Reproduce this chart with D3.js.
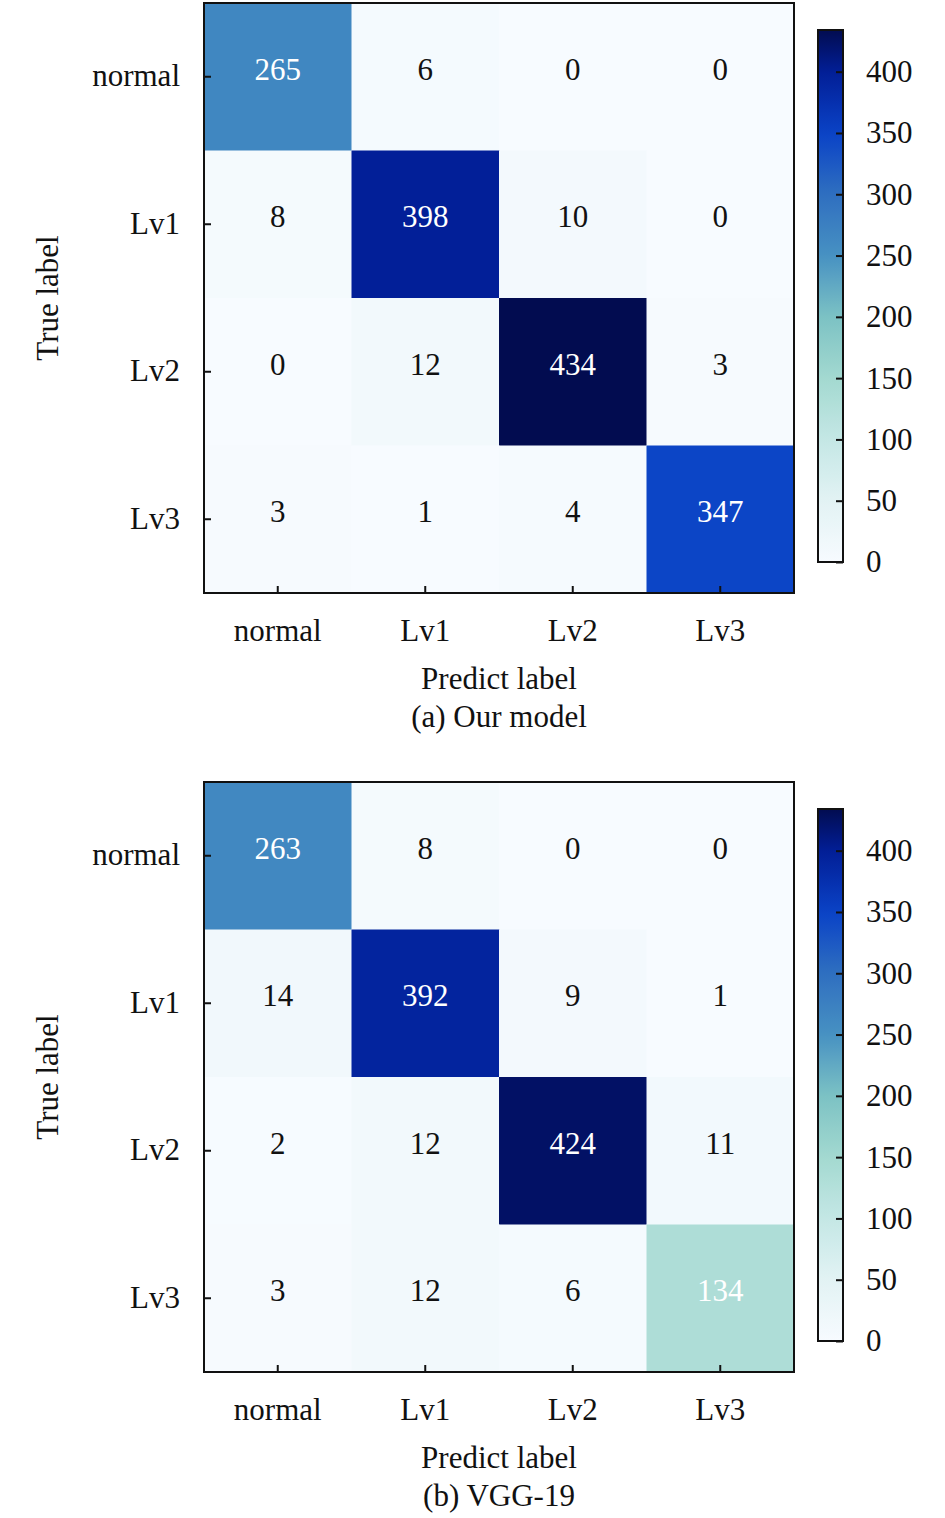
<!DOCTYPE html>
<html>

<head>
    <meta charset="UTF-8" />
    <title>confusion matrices</title>
    <style>
        body {
            margin: 0;
            padding: 0;
            background: #fff;
            font-family: 'Liberation Serif', 'Times New Roman', serif;
        }

        svg text {
            font-family: 'Liberation Serif', 'Times New Roman', serif;
        }
    </style>
</head>

<body>
    <div class="container"></div>

    <script src="https://cdnjs.cloudflare.com/ajax/libs/d3/7.8.5/d3.min.js"></script>
    <script>
        const labels = ['normal', 'Lv1', 'Lv2', 'Lv3']

        // rows = true label, cols = predicted label
        const ourModel = [
            [265, 6, 0, 0],
            [8, 398, 10, 0],
            [0, 12, 434, 3],
            [3, 1, 4, 347]
        ]
        const vgg19 = [
            [263, 8, 0, 0],
            [14, 392, 9, 1],
            [2, 12, 424, 11],
            [3, 12, 6, 134]
        ]
        const colorTicks = [0, 50, 100, 150, 200, 250, 300, 350, 400]
        const colorMax = 434

        const panels = [
            { matrix: ourModel, caption: '(a) Our model' },
            { matrix: vgg19, caption: '(b) VGG-19' }
        ]

        const width = 945
        const height = 1518
        const fontSize = 31

        // colour ramp picked off the reference colorbar
        const color = d3.scaleLinear()
            .domain([0, 50, 100, 150, 200, 250, 300, 350, 400, 434])
            .range(['#f7fbff', '#e2f2f4', '#c4e7e5', '#a3d9d0', '#7cc2c4', '#4791c2', '#2f6fc0', '#0a42c6', '#021e96', '#020c50'])
            .clamp(true)

        const svg = d3.select('.container').append('svg')
            .attr('width', width)
            .attr('height', height)

        const defs = svg.append('defs')
        const grad = defs.append('linearGradient')
            .attr('id', 'cbar')
            .attr('x1', 0).attr('y1', 1).attr('x2', 0).attr('y2', 0)
        d3.range(0, 1.0001, 0.02).forEach(t => {
            grad.append('stop')
                .attr('offset', t)
                .attr('stop-color', color(t * colorMax))
        })

        const drawPanel = (panel, top) => {
            const left = 204, size = 590

            const g = svg.append('g').attr('transform', `translate(${left},${top})`)

            const x = d3.scaleBand().domain(labels).range([0, size])
            const y = d3.scaleBand().domain(labels).range([0, size])

            const cells = panel.matrix.flatMap((row, i) => row.map((v, j) => ({ r: labels[i], c: labels[j], v })))

            g.selectAll('rect.cell')
                .data(cells)
                .join('rect')
                .attr('class', 'cell')
                .attr('x', d => x(d.c))
                .attr('y', d => y(d.r))
                .attr('width', x.bandwidth() + 0.5)
                .attr('height', y.bandwidth() + 0.5)
                .attr('fill', d => color(d.v))

            g.selectAll('text.val')
                .data(cells)
                .join('text')
                .attr('class', 'val')
                .attr('x', d => x(d.c) + x.bandwidth() / 2)
                .attr('y', d => y(d.r) + y.bandwidth() / 2)
                .attr('dy', '0.1em')
                .attr('text-anchor', 'middle')
                .attr('font-size', fontSize)
                .attr('fill', d => d.v > 100 ? '#fff' : '#111')
                .text(d => d.v)

            // axes, ticks point inward
            const xAxis = g.append('g')
                .attr('transform', `translate(0,${size})`)
                .call(d3.axisBottom(x).tickSize(-7).tickPadding(26))
            const yAxis = g.append('g')
                .call(d3.axisLeft(y).tickSize(-7).tickPadding(24))

            for (const ax of [xAxis, yAxis]) {
                ax.select('.domain').remove()
                ax.selectAll('line').attr('stroke', '#111').attr('stroke-width', 2)
                ax.selectAll('text').attr('font-size', fontSize).attr('fill', '#111')
                    .attr('font-family', "'Liberation Serif', serif")
            }
            yAxis.selectAll('text').attr('dy', '0.3em')

            g.append('rect')
                .attr('width', size).attr('height', size)
                .attr('fill', 'none').attr('stroke', '#111').attr('stroke-width', 2)

            g.append('text')
                .attr('transform', `translate(${47 - left},${size / 2}) rotate(-90)`)
                .attr('text-anchor', 'middle')
                .attr('dy', '0.35em')
                .attr('font-size', fontSize)
                .attr('fill', '#111')
                .text('True label')

            g.append('text')
                .attr('x', size / 2).attr('y', size + 96)
                .attr('text-anchor', 'middle')
                .attr('font-size', fontSize)
                .attr('fill', '#111')
                .text('Predict label')

            g.append('text')
                .attr('x', size / 2).attr('y', size + 134)
                .attr('text-anchor', 'middle')
                .attr('font-size', fontSize)
                .attr('fill', '#111')
                .text(panel.caption)

            // colorbar
            const cbTop = top + 27, cbH = 532, cbX = 818, cbW = 25
            const cy = d3.scaleLinear().domain([0, colorMax]).range([cbTop + cbH, cbTop])
            const cb = svg.append('g')
            cb.append('rect')
                .attr('x', cbX).attr('y', cbTop)
                .attr('width', cbW).attr('height', cbH)
                .attr('fill', 'url(#cbar)')
            const cbAxis = cb.append('g')
                .attr('transform', `translate(${cbX + cbW},0)`)
                .call(d3.axisRight(cy).tickValues(colorTicks).tickSize(-7).tickPadding(23))
            cbAxis.select('.domain').remove()
            cbAxis.selectAll('line').attr('stroke', '#111').attr('stroke-width', 2)
            cbAxis.selectAll('text').attr('font-size', fontSize).attr('fill', '#111')
                .attr('font-family', "'Liberation Serif', serif")
            cb.append('rect')
                .attr('x', cbX).attr('y', cbTop)
                .attr('width', cbW).attr('height', cbH)
                .attr('fill', 'none').attr('stroke', '#111').attr('stroke-width', 2)
        }

        drawPanel(panels[0], 3)
        drawPanel(panels[1], 782)
    </script>
</body>

</html>
